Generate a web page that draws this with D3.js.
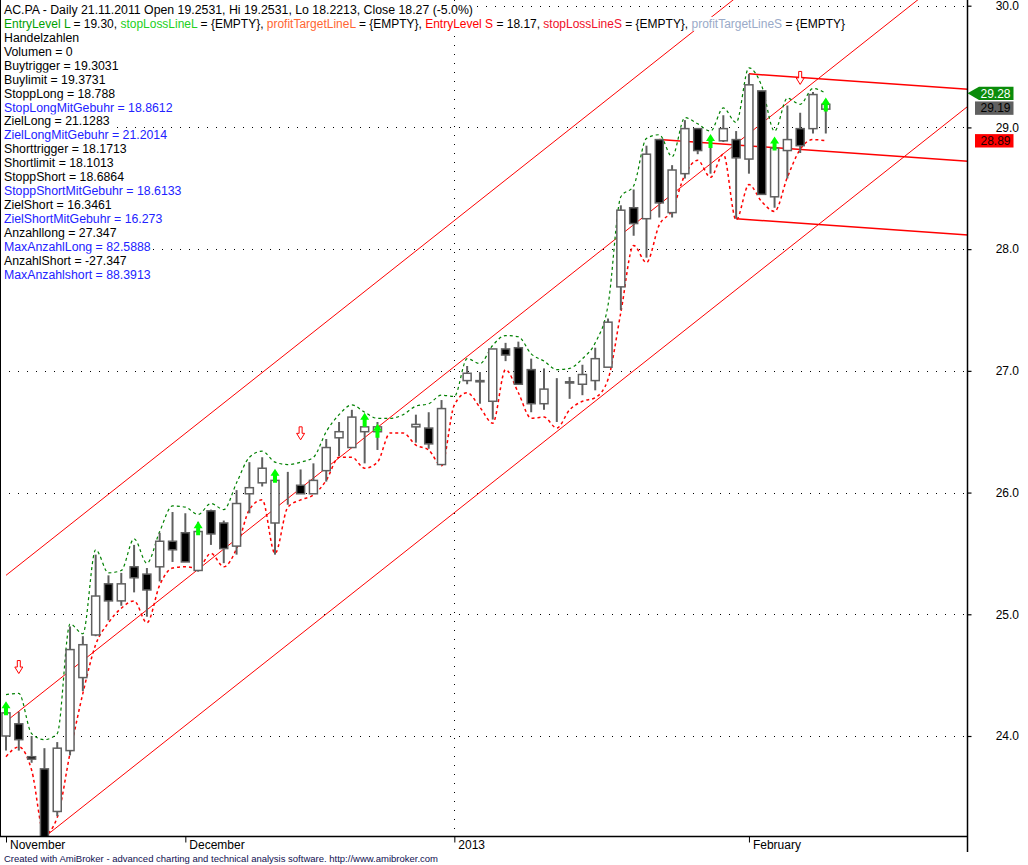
<!DOCTYPE html>
<html>
<head>
<meta charset="utf-8">
<script src="https://cdn.jsdelivr.net/npm/d3@7/dist/d3.min.js"></script>
<style>
  body { margin: 0; background: #fff; }
  svg { display: block; font-family: "Liberation Sans", Arial, sans-serif; }
</style>
</head>
<body>
<div id="chart"></div>
<script>
// daily bars, oldest first (bar index 0..64)
var opens  = [24.00,24.10,23.83,23.73,23.38,23.88,24.48,24.83,25.25,25.11,25.39,25.33,25.39,25.60,25.67,25.36,25.85,25.75,25.56,25.99,
              26.08,25.75,26.06,26.06,25.99,26.18,26.45,26.37,26.50,26.50,26.54,26.54,26.54,26.53,26.23,26.69,26.92,26.92,26.75,27.18,
              27.19,27.01,26.73,26.90,26.91,26.89,26.92,27.03,27.69,28.34,28.25,28.90,28.30,28.62,28.99,28.83,28.89,28.90,28.74,29.30,
              28.43,28.81,28.99,28.99,29.15];
var highs  = [24.21,24.20,24.00,23.90,23.95,24.90,24.82,25.49,25.32,25.34,25.57,25.38,25.67,25.84,25.83,25.76,25.86,25.77,26.02,26.25,
              26.29,26.18,26.17,26.19,26.24,26.44,26.58,26.68,26.60,26.58,26.54,26.54,26.64,26.66,26.76,26.69,27.04,26.99,27.18,27.23,
              27.24,27.10,27.02,26.94,26.95,27.05,27.19,27.43,28.36,28.49,28.85,28.90,28.69,29.06,28.99,28.90,29.10,28.97,29.44,29.30,
              28.90,29.18,29.12,29.29,29.23];
var lows   = [23.88,23.88,23.78,23.16,23.34,23.84,24.37,24.82,24.95,25.07,25.18,24.98,25.27,25.43,25.43,25.35,25.57,25.42,25.49,25.83,
              26.05,25.49,25.90,25.99,25.99,26.09,26.30,26.37,26.24,26.35,26.54,26.54,26.41,26.36,26.23,26.69,26.89,26.73,26.60,27.08,
              26.89,26.66,26.68,26.58,26.77,26.80,26.84,27.03,27.50,28.11,27.93,28.26,28.26,28.58,28.78,28.62,28.88,28.25,28.62,28.45,
              28.34,28.58,28.79,28.95,28.95];
var closes = [24.19,23.97,23.81,23.17,23.90,24.71,24.75,25.15,25.11,25.25,25.30,25.20,25.60,25.53,25.43,25.68,25.66,25.54,25.91,26.04,
              26.20,26.10,26.06,25.99,26.10,26.37,26.50,26.62,26.54,26.54,26.54,26.54,26.56,26.40,26.69,26.69,26.98,26.91,27.18,27.13,
              26.89,26.73,26.85,26.90,26.90,26.97,27.10,27.40,28.32,28.21,28.78,28.38,28.65,28.99,28.81,28.83,28.99,28.75,29.35,28.45,
              28.83,28.90,28.85,29.27,29.19];

// dashed envelope lines
var upperBand = [24.34,24.35,24.02,23.97,24.02,24.92,24.84,25.53,25.34,25.36,25.62,25.42,25.68,25.89,25.88,25.82,25.91,25.86,26.08,26.29,
                 26.34,26.25,26.23,26.25,26.29,26.50,26.64,26.72,26.66,26.61,26.61,26.64,26.71,26.73,26.80,26.79,27.10,27.06,27.21,27.29,
                 27.28,27.14,27.08,27.01,27.02,27.10,27.23,27.54,28.43,28.52,28.91,28.94,28.76,29.08,29.03,28.97,29.16,29.04,29.49,29.34,
                 28.97,29.24,29.19,29.32,29.28];
var lowerBand = [23.83,23.91,23.72,23.19,23.33,23.86,24.35,24.75,24.93,25.05,25.11,24.93,25.24,25.38,25.39,25.38,25.50,25.39,25.54,25.86,
                 25.94,25.50,25.88,25.94,25.98,26.10,26.29,26.29,26.20,26.25,26.49,26.49,26.39,26.35,26.22,26.72,26.82,26.70,26.57,27.01,
                 26.82,26.61,26.62,26.53,26.68,26.75,26.78,26.93,27.48,28.03,27.89,28.20,28.32,28.61,28.73,28.59,28.78,28.24,28.53,28.39,
                 28.31,28.59,28.82,28.90,28.89];

// signals
var buyBars = [0, 15, 21, 28, 29, 55, 60, 64];
var buyLevels = [24.17, 25.65, 26.08, 26.54, 26.45, 28.83, 28.81, 29.13];
var sellBars = [1, 23, 62];
var sellLevels = [24.62, 26.54, 29.46];

// regression channel (middle line through two bars) and half width
var channelBars = [0, 64];
var channelMid = [24.12, 29.45];
var channelWidth = 1.2;

// right-hand parallel trend lines
var trendBars = [58, 51, 57];
var trendPrices = [29.44, 28.90, 28.25];
var trendSlope = -0.0074;

// axes
var yTicks = [24, 25, 26, 27, 28, 29, 30];
var monthBars = [0, 14, 35, 58];
var monthLabels = ["November", "December", "2013", "February"];
var yearBars = [35];

// right axis value labels
var valueLabels = [
  {value: 29.28, fill: "#0a8c0a", color: "#fff", pointer: true},
  {value: 29.19, fill: "#606060", color: "#000", pointer: false},
  {value: 28.89, fill: "#ff0000", color: "#200", pointer: false}
];

var infoLines = [
  [["AC.PA - Daily 21.11.2011 Open 19.2531, Hi 19.2531, Lo 18.2213, Close 18.27 (-5.0%)", "#000"]],
  [["EntryLevel L", "#00a000"], [" = 19.30, ", "#000"], ["stopLossLineL", "#22d022"], [" = {EMPTY}, ", "#000"],
   ["profitTargetLineL", "#ff6633"], [" = {EMPTY}, ", "#000"], ["EntryLevel S", "#ff0000"], [" = 18.17, ", "#000"],
   ["stopLossLineS", "#f0102a"], [" = {EMPTY}, ", "#000"], ["profitTargetLineS", "#9aaac8"], [" = {EMPTY}", "#000"]],
  [["Handelzahlen", "#000"]],
  [["Volumen = 0", "#000"]],
  [["Buytrigger = 19.3031", "#000"]],
  [["Buylimit = 19.3731", "#000"]],
  [["StoppLong = 18.788", "#000"]],
  [["StopLongMitGebuhr = 18.8612", "#2222ff"]],
  [["ZielLong = 21.1283", "#000"]],
  [["ZielLongMitGebuhr = 21.2014", "#2222ff"]],
  [["Shorttrigger = 18.1713", "#000"]],
  [["Shortlimit = 18.1013", "#000"]],
  [["StoppShort = 18.6864", "#000"]],
  [["StoppShortMitGebuhr = 18.6133", "#2222ff"]],
  [["ZielShort = 16.3461", "#000"]],
  [["ZielShortMitGebuhr = 16.273", "#2222ff"]],
  [["Anzahllong = 27.347", "#000"]],
  [["MaxAnzahlLong = 82.5888", "#2222ff"]],
  [["AnzahlShort = -27.347", "#000"]],
  [["MaxAnzahlshort = 88.3913", "#2222ff"]]
];

var W = 1028, H = 865;
var plotRight = 967.5, plotBottom = 836.5;

var svg = d3.select("#chart").append("svg").attr("width", W).attr("height", H);

var x = d3.scaleLinear().domain([0, 64]).range([6, 825.8]);
var y = d3.scaleLinear().domain([24, 30]).range([736, 5.7]);

svg.append("clipPath").attr("id", "plotclip")
  .append("rect").attr("x", 0).attr("y", 0).attr("width", plotRight).attr("height", plotBottom);

var plot = svg.append("g").attr("clip-path", "url(#plotclip)");

// grid
plot.selectAll("line.hgrid").data(yTicks).enter().append("line")
  .attr("x1", 0).attr("x2", plotRight)
  .attr("y1", function(d) { return Math.round(y(d)) + 0.5; })
  .attr("y2", function(d) { return Math.round(y(d)) + 0.5; })
  .style("stroke", "#000").style("stroke-width", 1).style("stroke-dasharray", "1,8");
plot.selectAll("line.vgrid").data(yearBars).enter().append("line")
  .attr("x1", function(d) { return Math.round(x(d)) + 0.5; })
  .attr("x2", function(d) { return Math.round(x(d)) + 0.5; })
  .attr("y1", 0).attr("y2", plotBottom)
  .style("stroke", "#000").style("stroke-width", 1).style("stroke-dasharray", "1,8");

// regression channel
var chSlope = (channelMid[1] - channelMid[0]) / (channelBars[1] - channelBars[0]);
var lastBar = x.invert(plotRight + 5);
[-channelWidth, 0, channelWidth].forEach(function(off) {
  plot.append("line")
    .attr("x1", x(channelBars[0])).attr("y1", y(channelMid[0] + off))
    .attr("x2", x(lastBar)).attr("y2", y(channelMid[0] + off + chSlope * (lastBar - channelBars[0])))
    .style("stroke", "#ff0000").style("stroke-width", 1);
});

// right trend lines
trendBars.forEach(function(b, i) {
  plot.append("line")
    .attr("x1", x(b)).attr("y1", y(trendPrices[i]))
    .attr("x2", x(lastBar)).attr("y2", y(trendPrices[i] + trendSlope * (lastBar - b)))
    .style("stroke", "#ff0000").style("stroke-width", 1.5);
});

// envelopes
var band = d3.line().x(function(d, i) { return x(i); }).y(function(d) { return y(d); }).curve(d3.curveMonotoneX);
plot.append("path").attr("d", band(upperBand))
  .style("fill", "none").style("stroke", "#008000").style("stroke-width", 1.2).style("stroke-dasharray", "3,3");
plot.append("path").attr("d", band(lowerBand))
  .style("fill", "none").style("stroke", "#ff0000").style("stroke-width", 1.5).style("stroke-dasharray", "3,3");

// candles
var bars = d3.range(opens.length);
plot.selectAll("line.wick").data(bars).enter().append("line")
  .attr("x1", function(i) { return x(i); }).attr("x2", function(i) { return x(i); })
  .attr("y1", function(i) { return y(highs[i]); }).attr("y2", function(i) { return y(lows[i]); })
  .style("stroke", "#606060").style("stroke-width", 2);
plot.selectAll("rect.body").data(bars).enter().append("rect")
  .attr("x", function(i) { return x(i) - 4; })
  .attr("width", 8)
  .attr("y", function(i) { return y(Math.max(opens[i], closes[i])); })
  .attr("height", function(i) { return Math.abs(y(opens[i]) - y(closes[i])); })
  .style("fill", function(i) { return closes[i] < opens[i] ? "#000" : "#fff"; })
  .style("stroke", "#606060").style("stroke-width", 1.5);

// buy arrows (solid green, pointing up)
plot.selectAll("path.buy").data(buyBars).enter().append("path")
  .attr("d", function(b, k) {
    var cx = x(b), by = y(buyLevels[k]);
    return "M" + (cx - 2) + "," + by + "L" + (cx - 2) + "," + (by - 7) + "L" + (cx - 4.5) + "," + (by - 7) +
      "L" + cx + "," + (by - 14) + "L" + (cx + 4.5) + "," + (by - 7) + "L" + (cx + 2) + "," + (by - 7) +
      "L" + (cx + 2) + "," + by + "Z";
  })
  .style("fill", "#00ff00");

// sell arrows (hollow red, pointing down)
plot.selectAll("path.sell").data(sellBars).enter().append("path")
  .attr("d", function(b, k) {
    var cx = x(b), ty = y(sellLevels[k]);
    return "M" + (cx - 1.5) + "," + ty + "L" + (cx - 1.5) + "," + (ty + 6.5) + "L" + (cx - 4) + "," + (ty + 6.5) +
      "L" + cx + "," + (ty + 13) + "L" + (cx + 4) + "," + (ty + 6.5) + "L" + (cx + 1.5) + "," + (ty + 6.5) +
      "L" + (cx + 1.5) + "," + ty + "Z";
  })
  .style("fill", "#fff").style("stroke", "#ff0000").style("stroke-width", 1);

// frame / axes
svg.append("line").attr("x1", 0.5).attr("x2", 0.5).attr("y1", 0).attr("y2", plotBottom)
  .style("stroke", "#000").style("stroke-width", 1);
svg.append("line").attr("x1", 0).attr("x2", plotRight).attr("y1", plotBottom).attr("y2", plotBottom)
  .style("stroke", "#000").style("stroke-width", 1.5);
svg.append("line").attr("x1", plotRight).attr("x2", plotRight).attr("y1", 0).attr("y2", 852)
  .style("stroke", "#000").style("stroke-width", 1.5);

// y axis on the right
var yAxis = d3.axisRight(y).tickValues(yTicks).tickSize(4).tickPadding(24)
  .tickFormat(d3.format(".1f"));
var yg = svg.append("g").attr("transform", "translate(" + plotRight + ",0)").call(yAxis);
yg.select(".domain").remove();
yg.selectAll(".tick line").style("stroke", "#000").style("stroke-width", 1.2);
yg.selectAll(".tick text").attr("x", 51.5).style("text-anchor", "end")
  .style("font-family", "'Liberation Sans', Arial, sans-serif").style("font-size", "12px").style("fill", "#000");

// x axis month ticks
var xAxis = d3.axisBottom(x).tickValues(monthBars).tickSize(6).tickPadding(1)
  .tickFormat(function(d, i) { return monthLabels[i]; });
var xg = svg.append("g").attr("transform", "translate(0," + plotBottom + ")").call(xAxis);
xg.select(".domain").remove();
xg.selectAll(".tick line").style("stroke", "#000").style("stroke-width", 1);
xg.selectAll(".tick text").attr("x", 3.5).attr("y", 12).attr("dy", 0).style("text-anchor", "start")
  .style("font-family", "'Liberation Sans', Arial, sans-serif").style("font-size", "12px").style("fill", "#000");

// value labels at the right axis
var boxH = 13.4, prevBottom = -Infinity;
valueLabels.forEach(function(v) {
  var cy = Math.max(y(v.value), prevBottom + 1.4 + boxH / 2);
  prevBottom = cy + boxH / 2;
  var g = svg.append("g");
  if (v.pointer) {
    g.append("path")
      .attr("d", "M" + plotRight + "," + cy + "L979," + (cy - boxH / 2) + "L1013.5," + (cy - boxH / 2) +
        "L1013.5," + (cy + boxH / 2) + "L979," + (cy + boxH / 2) + "Z")
      .style("fill", v.fill);
  } else {
    g.append("rect").attr("x", 975).attr("y", cy - boxH / 2).attr("width", 38.5).attr("height", boxH)
      .style("fill", v.fill);
  }
  g.append("text").attr("x", 1010.5).attr("y", cy).attr("dy", "0.36em")
    .style("text-anchor", "end").style("font-size", "12px").style("fill", v.color)
    .text(d3.format(".2f")(v.value));
});

// information text block (drawn with a white backing like the original)
var info = svg.append("g");
infoLines.forEach(function(parts, i) {
  var row = info.append("g");
  var t = row.append("text").attr("x", 4).attr("y", 14 + i * 13.93)
    .style("font-size", "12.3px").style("white-space", "pre");
  parts.forEach(function(p) {
    t.append("tspan").text(p[0]).style("fill", p[1]);
  });
  // the long coloured legend line runs a bit narrower in the original
  if (parts.length > 1) t.attr("textLength", 841).attr("lengthAdjust", "spacingAndGlyphs");
  var bb = t.node().getBBox();
  row.insert("rect", "text").attr("x", 2).attr("y", bb.y)
    .attr("width", bb.width + 4).attr("height", bb.height)
    .style("fill", "#fff");
});

// footer
svg.append("text").attr("x", 4).attr("y", 861.5)
  .style("font-size", "9.5px").style("fill", "#101050")
  .text("Created with AmiBroker - advanced charting and technical analysis software. http://www.amibroker.com");
</script>
</body>
</html>
